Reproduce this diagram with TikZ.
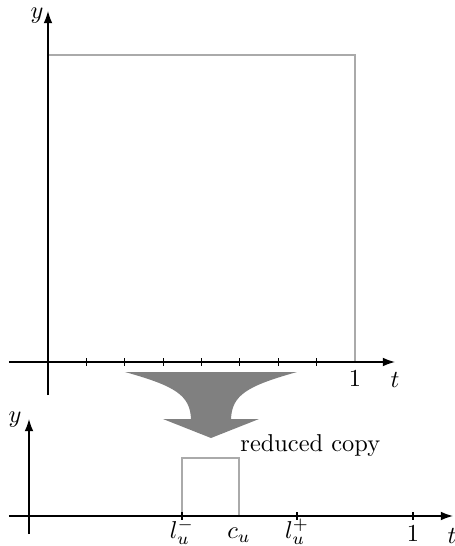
\documentclass[tikz,border=0pt]{standalone}
\usetikzlibrary{arrows.meta}
\definecolor{sqgray}{RGB}{170,170,170}
\definecolor{fungray}{RGB}{128,128,128}
\begin{document}
\begin{tikzpicture}[x=0.41pt,y=-0.41pt,
  axis/.style={line width=0.55pt,-{Latex[length=5pt,width=3.6pt]}},
  sq/.style={draw=sqgray,line width=1.2pt},
  tick/.style={line width=0.45pt},
  lab/.style={inner sep=0pt}]
\useasboundingbox (0,0) rectangle (455,546);
% ---- upper plot ----
\coordinate (O1) at (48,362);
\coordinate (S1) at (355,55);
\draw[sq] (O1) rectangle (S1);
\coordinate (hx0) at (9,362);
\coordinate (hx1) at (395,362);
\coordinate (vy0) at (48,395);
\coordinate (vy1) at (48,11);
\draw[axis] (hx0) -- (hx1);
\draw[axis] (vy0) -- (vy1);
\foreach \k in {1,...,7}{
  \draw[tick] ({48+\k*38.375},358) -- ({48+\k*38.375},366);
}
\node[lab] (ylab1) at (37,16) {$y$};
\node[lab] (one1) at (355,379) {$1$};
\node[lab] (t1) at (395,380) {$t$};
% ---- funnel arrow ----
\fill[fungray] (125,372) -- (297,372)
  .. controls (247,386) and (232,395) .. (231,419)
  -- (259,419) -- (211,438) -- (163,419) -- (191,419)
  .. controls (190,395) and (175,386) .. (125,372) -- cycle;
% ---- lower plot ----
\coordinate (A) at (182,516);
\coordinate (B) at (239,458);
\draw[sq] (A) rectangle (B);
\coordinate (hx2) at (9,516);
\coordinate (hx3) at (453,516);
\coordinate (vy2) at (29,534);
\coordinate (vy3) at (29,419);
\draw[axis] (hx2) -- (hx3);
\draw[axis] (vy2) -- (vy3);
\foreach \x in {182,297,413}{
  \draw[tick] (\x,512) -- (\x,520);
}
\node[lab] (ylab2) at (15,420) {$y$};
\node[lab] (lm) at (182,531.5) {$l_u^-$};
\node[lab] (cu) at (239,535) {$c_u$};
\node[lab] (lp) at (297,531.5) {$l_u^+$};
\node[lab] (one2) at (413,534) {$1$};
\node[lab] (t2) at (452,536) {$t$};
\node[lab,anchor=base west] (rc) at (240,451) {reduced copy};
\end{tikzpicture}
\end{document}
